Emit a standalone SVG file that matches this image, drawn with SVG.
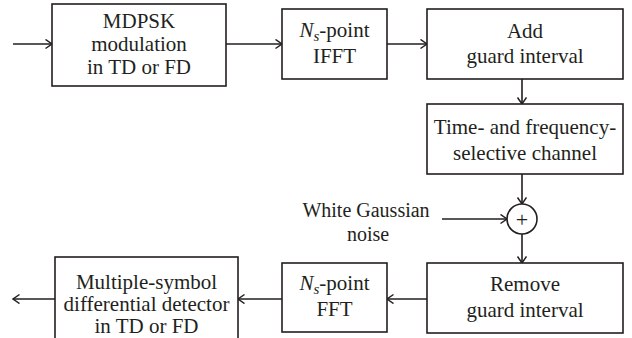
<svg xmlns="http://www.w3.org/2000/svg" width="632" height="338" viewBox="0 0 632 338">
<style>
  .box { fill: #ffffff; stroke: #231f20; stroke-width: 1.6; }
  .lbl { font-family: 'Liberation Serif', 'Times New Roman', serif; font-size: 21px; fill: #231f20; text-anchor: middle; }
  .sm { font-size: 20px; }
  .plus { font-size: 22px; }
  .conn { stroke: #231f20; stroke-width: 1.6; fill: none; marker-end: url(#arr); }
  .it { font-style: italic; }
  .sub { font-style: italic; font-size: 15px; }
</style>
<defs>
  <marker id="arr" markerUnits="userSpaceOnUse" markerWidth="10" markerHeight="12" refX="8" refY="5" orient="auto">
    <path d="M1.5,0.5 L8,5 L1.5,9.5" fill="none" stroke="#231f20" stroke-width="1.5"/>
  </marker>
</defs>
<rect width="632" height="338" fill="#ffffff"/>

<g id="connectors">
  <line class="conn" x1="13" y1="44" x2="52" y2="44"/>
  <line class="conn" x1="226" y1="44" x2="282" y2="44"/>
  <line class="conn" x1="387" y1="44" x2="427" y2="44"/>
  <line class="conn" x1="522" y1="79" x2="522" y2="104"/>
  <line class="conn" x1="522" y1="174" x2="522" y2="204"/>
  <line class="conn" x1="442" y1="219" x2="507" y2="219"/>
  <line class="conn" x1="522" y1="234" x2="522" y2="263"/>
  <line class="conn" x1="427" y1="299" x2="387" y2="299"/>
  <line class="conn" x1="282" y1="299" x2="238" y2="299"/>
  <line class="conn" x1="55" y1="299" x2="13" y2="299"/>
</g>

<g id="mdpsk">
  <rect class="box" x="52" y="4" width="174" height="82"/>
  <text class="lbl" x="139" y="28">MDPSK</text>
  <text class="lbl" x="139" y="51">modulation</text>
  <text class="lbl" x="139" y="74">in TD or FD</text>
</g>

<g id="ifft">
  <rect class="box" x="282" y="9" width="105" height="70"/>
  <text class="lbl" x="334.5" y="37"><tspan class="it">N</tspan><tspan class="sub" dy="4">s</tspan><tspan dy="-4">-point</tspan></text>
  <text class="lbl" x="334.5" y="63">IFFT</text>
</g>

<g id="addgi">
  <rect class="box" x="427" y="9" width="196" height="70"/>
  <text class="lbl" x="525" y="38">Add</text>
  <text class="lbl" x="525" y="63">guard interval</text>
</g>

<g id="channel">
  <rect class="box" x="427" y="104" width="196" height="70"/>
  <text class="lbl" x="525" y="134">Time- and frequency-</text>
  <text class="lbl" x="525" y="160">selective channel</text>
</g>

<g id="noise">
  <text class="lbl sm" x="366" y="217">White Gaussian</text>
  <text class="lbl sm" x="368" y="241">noise</text>
</g>

<g id="adder">
  <circle class="box" cx="522" cy="219" r="15"/>
  <text class="lbl plus" x="522" y="226.5">+</text>
</g>

<g id="removegi">
  <rect class="box" x="427" y="263" width="196" height="70"/>
  <text class="lbl" x="525" y="291">Remove</text>
  <text class="lbl" x="525" y="317">guard interval</text>
</g>

<g id="fft">
  <rect class="box" x="282" y="263" width="105" height="69"/>
  <text class="lbl" x="334.5" y="290"><tspan class="it">N</tspan><tspan class="sub" dy="4">s</tspan><tspan dy="-4">-point</tspan></text>
  <text class="lbl" x="334.5" y="316">FFT</text>
</g>

<g id="detector">
  <rect class="box" x="55" y="257" width="183" height="90"/>
  <text class="lbl" x="146.5" y="289">Multiple-symbol</text>
  <text class="lbl" x="146.5" y="311">differential detector</text>
  <text class="lbl" x="146.5" y="333">in TD or FD</text>
</g>
</svg>
